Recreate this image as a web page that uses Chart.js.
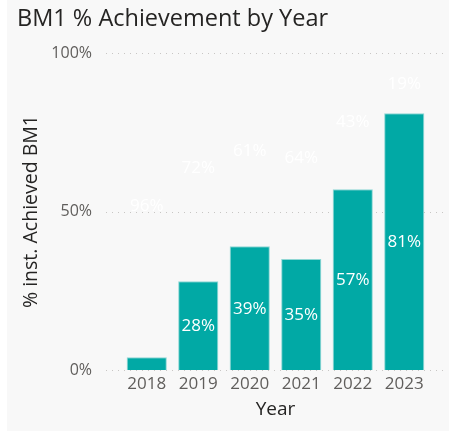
<!DOCTYPE html>
<html>
<head>
<meta charset="utf-8">
<script src="https://cdn.jsdelivr.net/npm/chart.js@4/dist/chart.umd.min.js"></script>
<style>
  html, body { margin: 0; padding: 0; background: #ffffff; }
  #card { position: absolute; left: 7px; top: 0; width: 442px; height: 431px; background: #f8f8f8; }
  canvas { display: block; }
</style>
</head>
<body>
<div id="card"><canvas id="c" width="442" height="431"></canvas></div>
<script>
const years = ['2018', '2019', '2020', '2021', '2022', '2023'];
const achieved = [4, 28, 39, 35, 57, 81];
const remaining = [96, 72, 61, 64, 43, 19];
const yTicks = [0, 50, 100];

const FONT = "'Open Sans', 'Noto Sans', sans-serif";

const dottedGrid = {
  id: 'dottedGrid',
  beforeDatasetsDraw(chart) {
    const ctx = chart.ctx;
    const y = chart.scales.y;
    const a = chart.chartArea;
    ctx.save();
    ctx.strokeStyle = '#c8c6c4';
    ctx.lineWidth = 1;
    ctx.setLineDash([1, 5]);
    yTicks.forEach(v => {
      const py = Math.round(y.getPixelForValue(v)) + 0.5;
      ctx.beginPath();
      ctx.moveTo(a.left - 15, py);
      ctx.lineTo(a.right + 17, py);
      ctx.stroke();
    });
    ctx.restore();
  }
};

const barLabels = {
  id: 'barLabels',
  afterDatasetsDraw(chart) {
    const ctx = chart.ctx;
    ctx.save();
    ctx.font = "17px " + FONT;
    ctx.textAlign = 'center';
    ctx.textBaseline = 'middle';
    chart.data.datasets.forEach((ds, di) => {
      const meta = chart.getDatasetMeta(di);
      meta.data.forEach((el, i) => {
        const h = Math.abs(el.base - el.y);
        if (h < 20) return;
        ctx.fillStyle = '#ffffff';
        ctx.fillText(Math.round(ds.data[i]) + '%', el.x, (el.y + el.base) / 2 + 1);
      });
    });
    ctx.restore();
  }
};

new Chart(document.getElementById('c'), {
  type: 'bar',
  data: {
    labels: years,
    datasets: [
      {
        label: 'Achieved',
        data: achieved,
        backgroundColor: '#01a9a5',
        borderColor: '#8fd7d4',
        borderWidth: 1,
        borderSkipped: 'bottom',
        barPercentage: 0.78,
        categoryPercentage: 1.0
      },
      {
        label: 'Not achieved',
        data: remaining,
        backgroundColor: 'rgba(0,0,0,0)',
        borderWidth: 0,
        barPercentage: 0.78,
        categoryPercentage: 1.0
      }
    ]
  },
  options: {
    responsive: false,
    animation: false,
    layout: { padding: { left: 10, right: 19, top: 0, bottom: 0 } },
    plugins: {
      legend: { display: false },
      tooltip: { enabled: false },
      title: {
        display: true,
        text: 'BM1 % Achievement by Year',
        align: 'start',
        color: '#252423',
        font: { family: FONT, size: 23.5, weight: 'normal' },
        padding: { top: 5.4, bottom: 19.4 }
      }
    },
    scales: {
      x: {
        stacked: true,
        grid: { display: false, drawTicks: false },
        border: { display: false },
        ticks: { color: '#605e5c', font: { family: FONT, size: 17 }, padding: 4, maxRotation: 0 },
        title: {
          display: true, text: 'Year', color: '#252423',
          font: { family: FONT, size: 19 }, padding: { top: 0, bottom: 10 }
        },
        afterFit(s) { s.height = 61; }
      },
      y: {
        stacked: true,
        min: 0, max: 100,
        grid: { display: false, drawTicks: false },
        border: { display: false },
        afterBuildTicks(s) { s.ticks = yTicks.map(v => ({ value: v })); },
        ticks: {
          color: '#605e5c', font: { family: FONT, size: 16 }, padding: 29,
          callback: v => v + '%'
        },
        title: {
          display: true, text: '% inst. Achieved BM1', color: '#252423',
          font: { family: FONT, size: 19.5 }, padding: { top: 3, bottom: 0 }
        },
        afterFit(s) { s.width = 104; }
      }
    }
  },
  plugins: [dottedGrid, barLabels]
});
</script>
</body>
</html>
